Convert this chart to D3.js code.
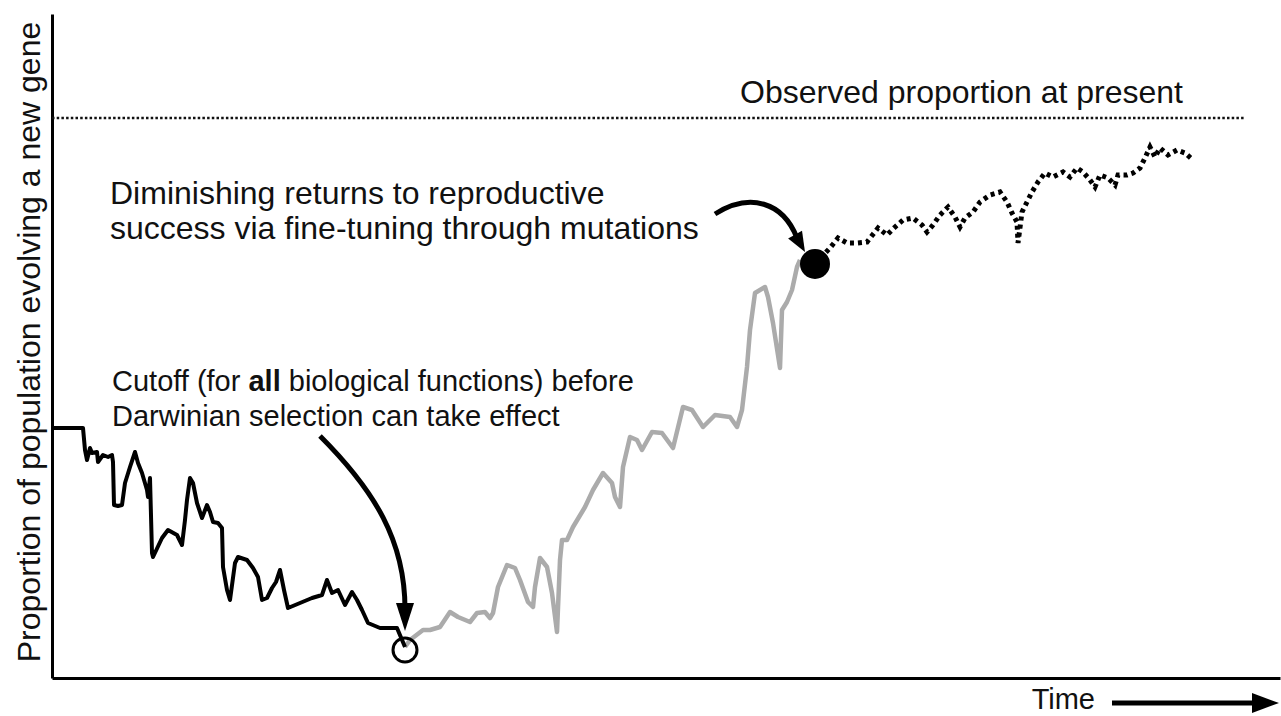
<!DOCTYPE html>
<html><head><meta charset="utf-8">
<script src="https://cdn.jsdelivr.net/npm/d3@7"></script>
<style>
html,body{margin:0;padding:0;background:#fff;}
svg text{font-family:"Liberation Sans",Arial,Helvetica,sans-serif;fill:#111;}
</style></head>
<body>
<svg id="chart" width="1281" height="716"></svg>
<script>
// Time (arbitrary units) and proportion (arbitrary units; 560 = observed at present)
const neutralT = [0,31,33,35,38,40,45,46,51,56,60,61,62,66,70,73,78,83,86,90,95,96,98,100,101,110,116,125,130,133,135,138,141,145,150,155,158,161,166,170,171,175,178,183,186,195,201,206,210,215,220,224,228,232,236,248,260,270,275,280,286,293,300,305,310,316,328,345,353];
const neutralV = [250,250,228,218,230,225,226,216,223,221,223,216,173,172,173,195,211,226,215,205,188,181,200,125,121,140,148,143,133,158,178,200,195,175,160,173,166,156,155,150,111,88,78,115,121,118,110,101,78,80,90,96,108,88,70,75,80,83,98,85,88,73,86,78,68,55,50,50,31];

const selectionT = [353,358,371,378,388,398,406,418,425,433,438,441,446,455,463,468,476,481,483,488,495,500,505,508,510,515,521,533,541,551,560,563,568,571,578,585,590,600,610,621,631,640,651,663,678,685,690,695,698,703,713,716,721,728,730,735,740,745,748];
const selectionV = [31,38,48,48,51,66,61,56,65,66,60,65,91,113,110,98,76,71,91,120,111,85,46,118,138,138,151,171,188,205,195,181,171,211,241,238,228,246,245,230,271,268,251,263,261,251,268,311,348,385,391,381,355,310,368,376,388,411,418];

const tuningT = [763,778,786,795,805,815,826,835,843,851,861,870,875,881,888,896,903,908,913,921,928,938,948,955,960,965,966,970,975,980,986,993,1001,1011,1018,1025,1031,1038,1043,1048,1056,1063,1066,1075,1081,1088,1093,1098,1103,1108,1116,1125,1133,1141];
const tuningV = [414,430,440,435,435,436,450,443,451,458,460,453,446,453,463,471,461,451,460,466,476,483,486,476,465,456,435,466,476,486,496,505,501,506,501,510,506,498,491,503,500,493,503,503,505,510,520,531,521,530,523,528,525,518];

const observedLevel = 560;
const observedSpan = [0, 1193];

const yLabel = "Proportion of population evolving a new gene";
const xLabel = "Time";
const observedLabel = "Observed proportion at present";
const diminishLines = ["Diminishing returns to reproductive", "success via fine-tuning through mutations"];
const cutoffLine1 = ["Cutoff (for ", "all", " biological functions) before"];
const cutoffLine2 = "Darwinian selection can take effect";

const svg = d3.select("#chart");
const x = d3.scaleLinear().domain([0, 1228]).range([52, 1280]);
const y = d3.scaleLinear().domain([0, 664]).range([678, 14]);

// axes
const ax = svg.append("g").attr("transform", `translate(0,${y(0)})`)
  .call(d3.axisBottom(x).ticks(0).tickSizeOuter(0));
ax.select(".domain").attr("stroke", "#000").attr("stroke-width", 3);
const ay = svg.append("g").attr("transform", `translate(${x(0)},0)`)
  .call(d3.axisLeft(y).ticks(0).tickSizeOuter(0));
ay.select(".domain").attr("stroke", "#000").attr("stroke-width", 3);

// observed level
svg.append("line")
  .attr("x1", x(observedSpan[0])).attr("x2", x(observedSpan[1]))
  .attr("y1", y(observedLevel)).attr("y2", y(observedLevel))
  .attr("stroke", "#111").attr("stroke-width", 2.5).attr("stroke-dasharray", "2.5,2.2");

const line = d3.line().x(d => x(d[0])).y(d => y(d[1]));
const zip = (a, b) => a.map((t, i) => [t, b[i]]);

svg.append("path").datum(zip(selectionT, selectionV)).attr("d", line)
  .attr("fill", "none").attr("stroke", "#ababab").attr("stroke-width", 4.5).attr("stroke-linejoin", "round");
svg.append("path").datum(zip(neutralT, neutralV)).attr("d", line)
  .attr("fill", "none").attr("stroke", "#000").attr("stroke-width", 4).attr("stroke-linejoin", "round");
svg.append("path").datum(zip(tuningT, tuningV)).attr("d", line)
  .attr("fill", "none").attr("stroke", "#000").attr("stroke-width", 5).attr("stroke-dasharray", "4,4");

// markers
const cx0 = x(neutralT[neutralT.length - 1]), cy0 = y(neutralV[neutralV.length - 1]);
svg.append("circle").attr("cx", cx0).attr("cy", cy0 + 3).attr("r", 12)
  .attr("fill", "none").attr("stroke", "#000").attr("stroke-width", 3);
const cx1 = x(tuningT[0]), cy1 = y(tuningV[0]);
svg.append("circle").attr("cx", cx1).attr("cy", cy1).attr("r", 15).attr("fill", "#000");

// arrows
function arrowHead(tipX, tipY, angle, len, half) {
  const bx = tipX - len * Math.cos(angle), by = tipY - len * Math.sin(angle);
  const px = -Math.sin(angle) * half, py = Math.cos(angle) * half;
  return `M${tipX},${tipY}L${bx + px},${by + py}L${bx - px},${by - py}Z`;
}
// cutoff arrow
{
  const tx = cx0, ty = cy0 - 16;
  svg.append("path").attr("d", `M${tx - 85},${ty - 195} C${tx - 30},${ty - 140} ${tx},${ty - 90} ${tx},${ty - 22}`)
    .attr("fill", "none").attr("stroke", "#000").attr("stroke-width", 5);
  svg.append("path").attr("d", arrowHead(tx, ty, Math.PI / 2, 28, 9)).attr("fill", "#000");
}
// diminishing arrow
{
  const tx = cx1 - 10, ty = cy1 - 12;
  svg.append("path").attr("d", `M${tx - 90},${ty - 38} C${tx - 55},${ty - 60} ${tx - 22},${ty - 50} ${tx - 8},${ty - 14}`)
    .attr("fill", "none").attr("stroke", "#000").attr("stroke-width", 5);
  svg.append("path").attr("d", arrowHead(tx, ty, Math.atan2(14, 8), 20, 8)).attr("fill", "#000");
}

// text
const fs = 32, fsCut = 29;
svg.append("text").attr("x", 1183).attr("y", 103).attr("text-anchor", "end")
  .attr("font-size", fs).text(observedLabel);
svg.append("text").attr("x", 110).attr("y", 204).attr("font-size", fs).text(diminishLines[0]);
svg.append("text").attr("x", 110).attr("y", 239).attr("font-size", fs).text(diminishLines[1]);
const c1 = svg.append("text").attr("x", 112).attr("y", 391).attr("font-size", fsCut);
cutoffLine1.forEach((s, i) => c1.append("tspan").attr("font-weight", i === 1 ? "bold" : "normal").text(s));
svg.append("text").attr("x", 112).attr("y", 426).attr("font-size", fsCut).text(cutoffLine2);

svg.append("text").attr("transform", `translate(40,${(22 + 662) / 2}) rotate(-90)`)
  .attr("text-anchor", "middle").attr("font-size", fs).text(yLabel);

svg.append("text").attr("x", 1095).attr("y", 709).attr("text-anchor", "end").attr("font-size", 29).text(xLabel);
svg.append("line").attr("x1", 1112).attr("x2", 1255).attr("y1", 703).attr("y2", 703)
  .attr("stroke", "#000").attr("stroke-width", 5);
svg.append("path").attr("d", arrowHead(1279, 703, 0, 27, 10)).attr("fill", "#000");
</script>
</body></html>
